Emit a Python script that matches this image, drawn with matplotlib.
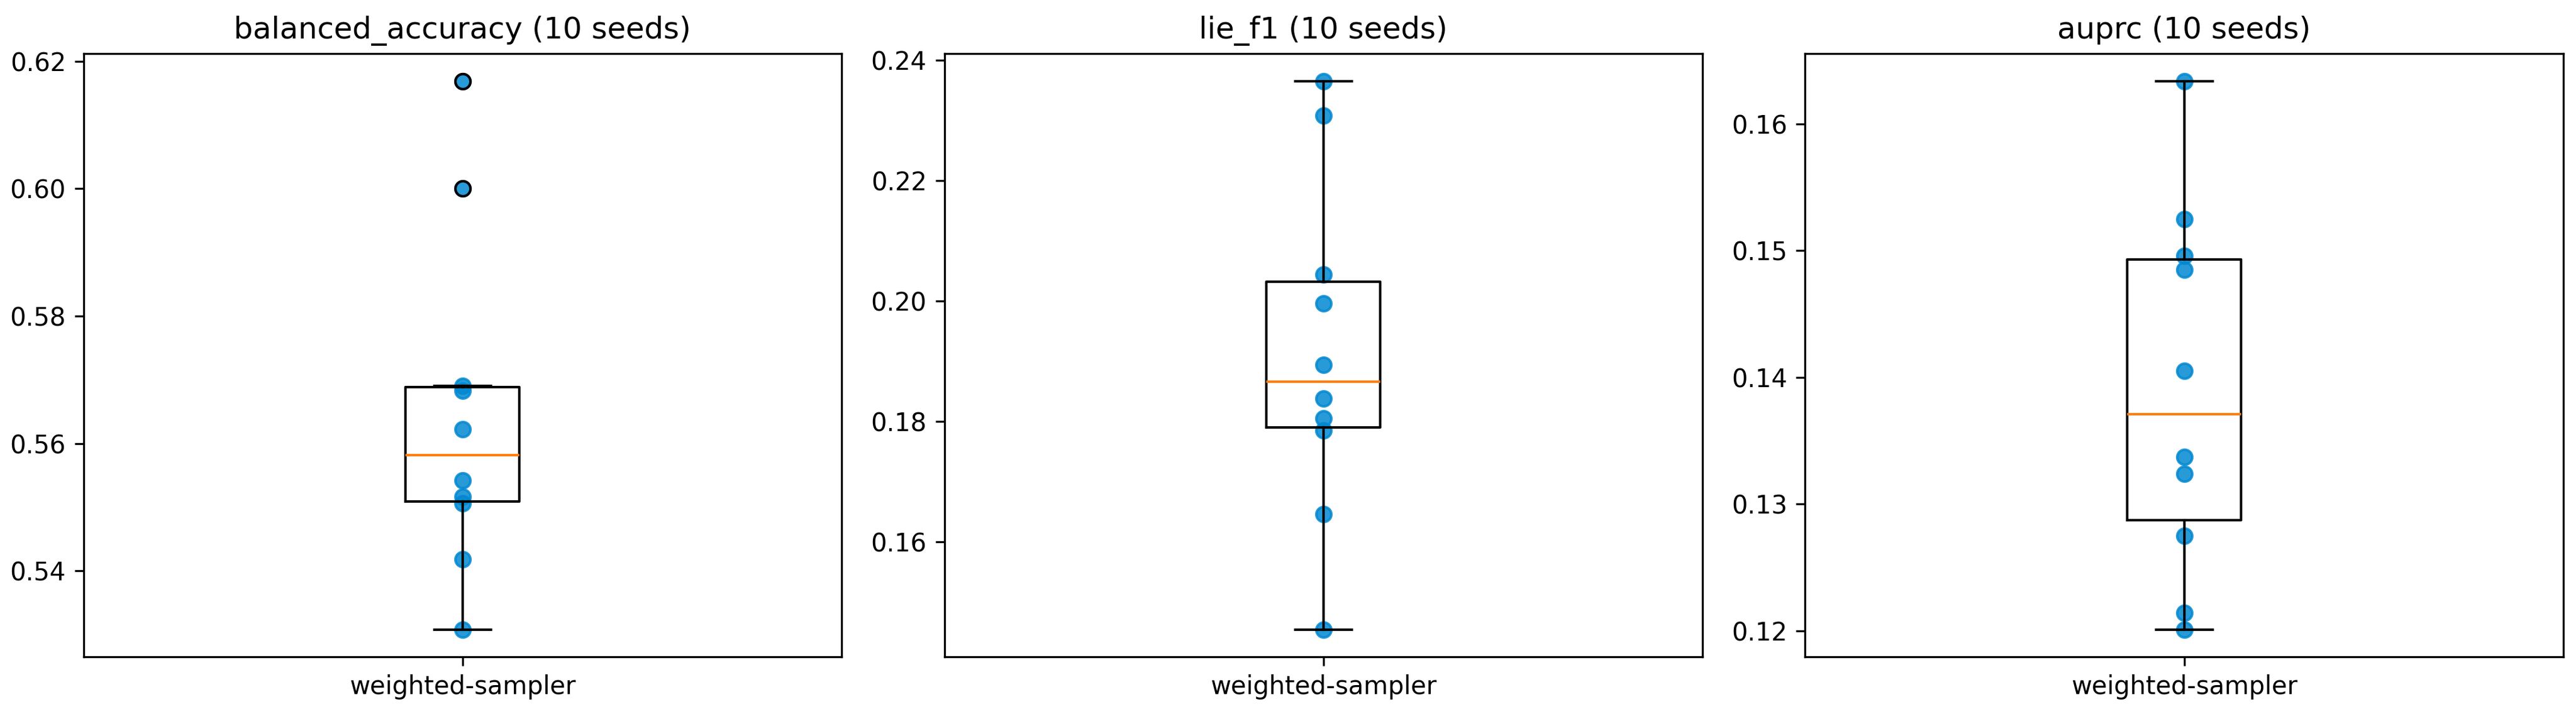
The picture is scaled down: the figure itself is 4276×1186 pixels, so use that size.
import matplotlib
matplotlib.use("Agg")
import matplotlib.pyplot as plt

# per-seed scores for the weighted-sampler run
balanced_accuracy = [0.5308, 0.5418, 0.5506, 0.5516, 0.5542, 0.5622, 0.5683, 0.5690, 0.6000, 0.6169]
lie_f1 = [0.1454, 0.1646, 0.1785, 0.1805, 0.1838, 0.1894, 0.1996, 0.2044, 0.2308, 0.2365]
auprc = [0.1201, 0.1214, 0.1275, 0.1324, 0.1337, 0.1405, 0.1485, 0.1496, 0.1525, 0.1634]

metric_names = ["balanced_accuracy", "lie_f1", "auprc"]
metric_values = [balanced_accuracy, lie_f1, auprc]
run_labels = ["weighted-sampler"]

fig, axes = plt.subplots(1, 3, figsize=(4276 / 300, 1186 / 300), dpi=300)
fig.subplots_adjust(left=0.0324, right=0.9951, top=0.925, bottom=0.080, wspace=0.1354)

for ax, name, vals in zip(axes, metric_names, metric_values):
    ax.scatter([1] * len(vals), vals, color="#0288d1", alpha=0.85, zorder=1)
    ax.boxplot([vals], tick_labels=run_labels, zorder=2)
    ax.set_title(f"{name} ({len(vals)} seeds)", fontsize=12)

fig.savefig("out.png", dpi=300)
